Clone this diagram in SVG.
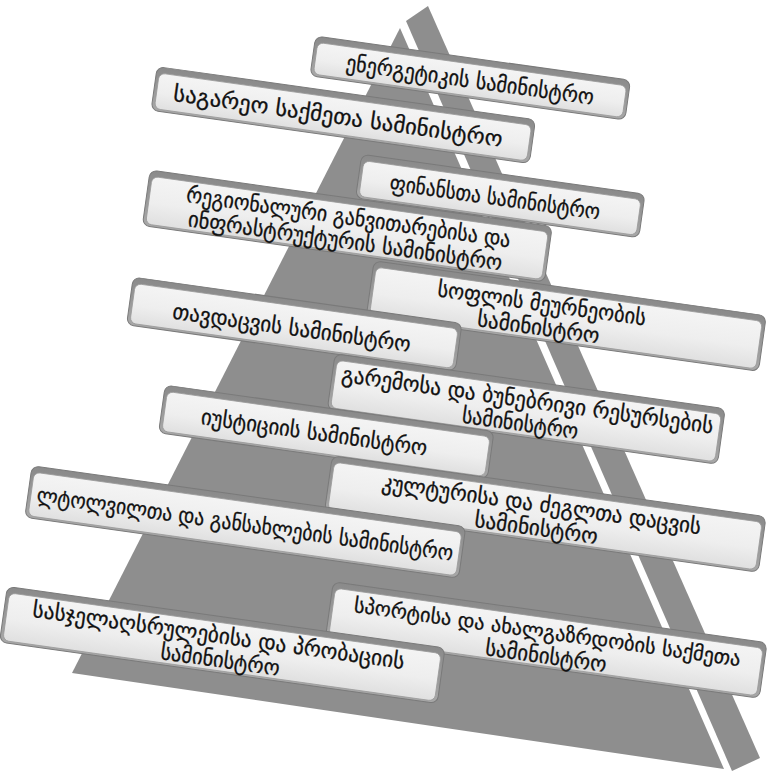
<svg xmlns="http://www.w3.org/2000/svg" width="768" height="772" viewBox="0 0 768 772">
<defs>
<linearGradient id="faceGrad" x1="0" y1="0" x2="0" y2="1">
<stop offset="0" stop-color="#ffffff"/>
<stop offset="0.55" stop-color="#f7f7f7"/>
<stop offset="1" stop-color="#e6e6e6"/>
</linearGradient>
<linearGradient id="edgeGrad" x1="0" y1="0" x2="0" y2="1">
<stop offset="0" stop-color="#8a8a8a"/>
<stop offset="1" stop-color="#a8a8a8"/>
</linearGradient>
</defs>
<style>
.edge{fill:url(#edgeGrad);stroke:#7a7a7a;stroke-width:1}
.face{fill:url(#faceGrad);fill-opacity:0.9;stroke:#9a9a9a;stroke-width:0.8}
.t{font-family:"DejaVu Sans","Noto Sans",sans-serif;font-size:22px;fill:#111;stroke:#111;stroke-width:0.3;text-anchor:middle;dominant-baseline:central}
.s{font-size:20.5px}
</style>
<rect width="768" height="772" fill="#ffffff"/>
<g id="pyramid">
<polygon points="400,28 72,673 724,769" fill="#8e8e8e"/>
<polygon points="406,21 428,6 760,758 732,771" fill="#8e8e8e"/>
</g>
<g id="n1" transform="translate(470,80) rotate(8)">
<rect class="edge" x="-159" y="-22" width="318" height="40" rx="7"/>
<rect class="face" x="-156" y="-16" width="312" height="32" rx="6"/>
<text class="t" x="0" y="0" textLength="250" lengthAdjust="spacingAndGlyphs">ენერგეტიკის სამინისტრო</text>
</g>
<g id="n2" transform="translate(343,117) rotate(8)">
<rect class="edge" x="-191" y="-24" width="382" height="44" rx="7"/>
<rect class="face" x="-188" y="-18" width="376" height="36" rx="6"/>
<text class="t" x="-5" y="0" textLength="332" lengthAdjust="spacingAndGlyphs">საგარეო საქმეთა სამინისტრო</text>
</g>
<g id="n3" transform="translate(500,198) rotate(8)">
<rect class="edge" x="-143" y="-24" width="286" height="44" rx="7"/>
<rect class="face" x="-140" y="-18" width="280" height="36" rx="6"/>
<text class="t" x="-5" y="0" textLength="212" lengthAdjust="spacingAndGlyphs">ფინანსთა სამინისტრო</text>
</g>
<g id="n4" transform="translate(347,228) rotate(8)">
<rect class="edge" x="-203" y="-30" width="406" height="56" rx="7"/>
<rect class="face" x="-200" y="-24" width="400" height="48" rx="6"/>
<text class="t" x="0" y="-11" textLength="327" lengthAdjust="spacingAndGlyphs">რეგიონალური განვითარებისა და</text>
<text class="t" x="0" y="13" textLength="317" lengthAdjust="spacingAndGlyphs">ინფრასტრუქტურის სამინისტრო</text>
</g>
<g id="n5" transform="translate(566,318) rotate(8)">
<rect class="edge" x="-198" y="-30" width="396" height="56" rx="7"/>
<rect class="face" x="-195" y="-24" width="390" height="48" rx="6"/>
<text class="t" x="-26" y="-11" textLength="210" lengthAdjust="spacingAndGlyphs">სოფლის მეურნეობის</text>
<text class="t" x="-26" y="13" textLength="123" lengthAdjust="spacingAndGlyphs">სამინისტრო</text>
</g>
<g id="n6" transform="translate(294,326) rotate(8)">
<rect class="edge" x="-166" y="-26" width="332" height="48" rx="7"/>
<rect class="face" x="-163" y="-20" width="326" height="40" rx="6"/>
<text class="t" x="-2" y="2" textLength="240" lengthAdjust="spacingAndGlyphs">თავდაცვის სამინისტრო</text>
</g>
<g id="n7" transform="translate(526,411) rotate(8)">
<rect class="edge" x="-197" y="-30" width="394" height="56" rx="7"/>
<rect class="face" x="-194" y="-24" width="388" height="48" rx="6"/>
<text class="t" x="0" y="-11" textLength="375" lengthAdjust="spacingAndGlyphs">გარემოსა და ბუნებრივი რესურსების</text>
<text class="t" x="-4" y="13" textLength="117" lengthAdjust="spacingAndGlyphs">სამინისტრო</text>
</g>
<g id="n8" transform="translate(326,434) rotate(8)">
<rect class="edge" x="-166" y="-26" width="332" height="48" rx="7"/>
<rect class="face" x="-163" y="-20" width="326" height="40" rx="6"/>
<text class="t" x="-12" y="0" textLength="228" lengthAdjust="spacingAndGlyphs">იუსტიციის სამინისტრო</text>
</g>
<g id="n9" transform="translate(545,516) rotate(8)">
<rect class="edge" x="-219" y="-30" width="438" height="56" rx="7"/>
<rect class="face" x="-216" y="-24" width="432" height="48" rx="6"/>
<text class="t" x="-5" y="-11" textLength="322" lengthAdjust="spacingAndGlyphs">კულტურისა და ძეგლთა დაცვის</text>
<text class="t" x="-7" y="13" textLength="124" lengthAdjust="spacingAndGlyphs">სამინისტრო</text>
</g>
<g id="n10" transform="translate(245,524) rotate(8)">
<rect class="edge" x="-219" y="-28" width="438" height="52" rx="7"/>
<rect class="face" x="-216" y="-22" width="432" height="44" rx="6"/>
<text class="t" x="0" y="0" textLength="420" lengthAdjust="spacingAndGlyphs">ლტოლვილთა და განსახლების სამინისტრო</text>
</g>
<g id="n11" transform="translate(546,642) rotate(8)">
<rect class="edge" x="-219" y="-30" width="438" height="56" rx="7"/>
<rect class="face" x="-216" y="-24" width="432" height="48" rx="6"/>
<text class="t s" x="0" y="-10" textLength="390" lengthAdjust="spacingAndGlyphs">სპორტისა და ახალგაზრდობის საქმეთა</text>
<text class="t" x="2" y="14" textLength="122" lengthAdjust="spacingAndGlyphs">სამინისტრო</text>
</g>
<g id="n12" transform="translate(222,647) rotate(8)">
<rect class="edge" x="-221" y="-30" width="442" height="56" rx="7"/>
<rect class="face" x="-218" y="-24" width="436" height="48" rx="6"/>
<text class="t" x="-5" y="-11" textLength="375" lengthAdjust="spacingAndGlyphs">სასჯელაღსრულებისა და პრობაციის</text>
<text class="t" x="0" y="13" textLength="120" lengthAdjust="spacingAndGlyphs">სამინისტრო</text>
</g>
<g id="connectors"></g>
</svg>
